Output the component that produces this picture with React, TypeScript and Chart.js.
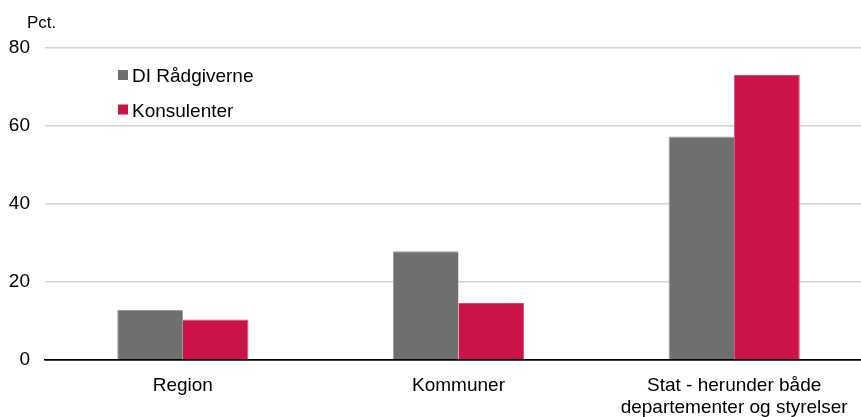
import React, { useEffect, useRef } from "react";
import { Chart, registerables } from "chart.js";

Chart.register(...registerables);

const categories: (string | string[])[] = [
  "Region",
  "Kommuner",
  ["Stat - herunder både", "departementer og styrelser"],
];
const seriesNames = ["DI Rådgiverne", "Konsulenter"];
const diRaadgivere = [12.8, 27.9, 57.3];
const konsulenter = [10.4, 14.6, 73.1];
const yTicks = [0, 20, 40, 60, 80];
const yUnit = "Pct.";

const GRAY = "#6f6f6f";
const RED = "#cc1347";
const FONT = "'Liberation Sans', Arial, sans-serif";

const overlayPlugin = {
  id: "overlay",
  afterDraw(chart: any) {
    const ctx = chart.ctx;
    ctx.save();
    ctx.fillStyle = "#000";
    ctx.textBaseline = "alphabetic";
    ctx.textAlign = "left";
    ctx.font = `17px ${FONT}`;
    ctx.fillText(yUnit, 27, 28);
    const colors = [GRAY, RED];
    const baselines = [82, 116.5];
    ctx.font = `19px ${FONT}`;
    seriesNames.forEach((name, i) => {
      const b = baselines[i];
      ctx.fillStyle = colors[i];
      ctx.fillRect(118, b - 12, 10, 10);
      ctx.fillStyle = "#000";
      ctx.fillText(name, 132, b);
    });
    ctx.restore();
  },
};

export default function App() {
  const ref = useRef<HTMLCanvasElement>(null);
  useEffect(() => {
    if (!ref.current) return;
    const chart = new Chart(ref.current, {
      type: "bar",
      data: {
        labels: categories,
        datasets: [
          {
            label: seriesNames[0],
            data: diRaadgivere,
            backgroundColor: GRAY,
            borderColor: "#9a9a9a",
            borderWidth: { top: 1, left: 1, right: 0, bottom: 0 },
          },
          {
            label: seriesNames[1],
            data: konsulenter,
            backgroundColor: RED,
            borderColor: "#d9486f",
            borderWidth: { top: 1, left: 0, right: 1, bottom: 0 },
          },
        ],
      },
      options: {
        animation: false,
        responsive: false,
        maintainAspectRatio: false,
        layout: { padding: { top: 48, left: 0, right: 0, bottom: 0 } },
        plugins: {
          legend: { display: false },
          tooltip: { enabled: false },
          title: { display: false },
        },
        datasets: {
          bar: { categoryPercentage: 0.476, barPercentage: 1 },
        },
        scales: {
          x: {
            grid: { display: false, drawTicks: false },
            border: { display: true, color: "#000", width: 1.5 },
            ticks: {
              color: "#000",
              font: { family: FONT, size: 19, lineHeight: 1.2 },
              padding: 14,
              maxRotation: 0,
              autoSkip: false,
            },
            afterFit: (scale: any) => {
              scale.height = 57;
            },
          },
          y: {
            min: 0,
            max: 80,
            afterBuildTicks: (scale: any) => {
              scale.ticks = yTicks.map((v) => ({ value: v }));
            },
            grid: {
              drawTicks: false,
              color: (c: any) => (c.tick && c.tick.value === 0 ? "#000" : "#d4d4d4"),
              lineWidth: 1.5,
            },
            border: { display: false },
            ticks: {
              color: "#000",
              font: { family: FONT, size: 19 },
              padding: 15,
            },
            afterFit: (scale: any) => {
              scale.width = 45;
            },
          },
        },
      },
      plugins: [overlayPlugin],
    });
    return () => chart.destroy();
  }, []);
  return (
    <div style={{ position: "fixed", left: 0, top: 0, width: 861, height: 417, overflow: "hidden", background: "#fff" }}>
      <canvas ref={ref} width={872} height={417} style={{ display: "block", width: 872, height: 417 }} />
    </div>
  );
}
